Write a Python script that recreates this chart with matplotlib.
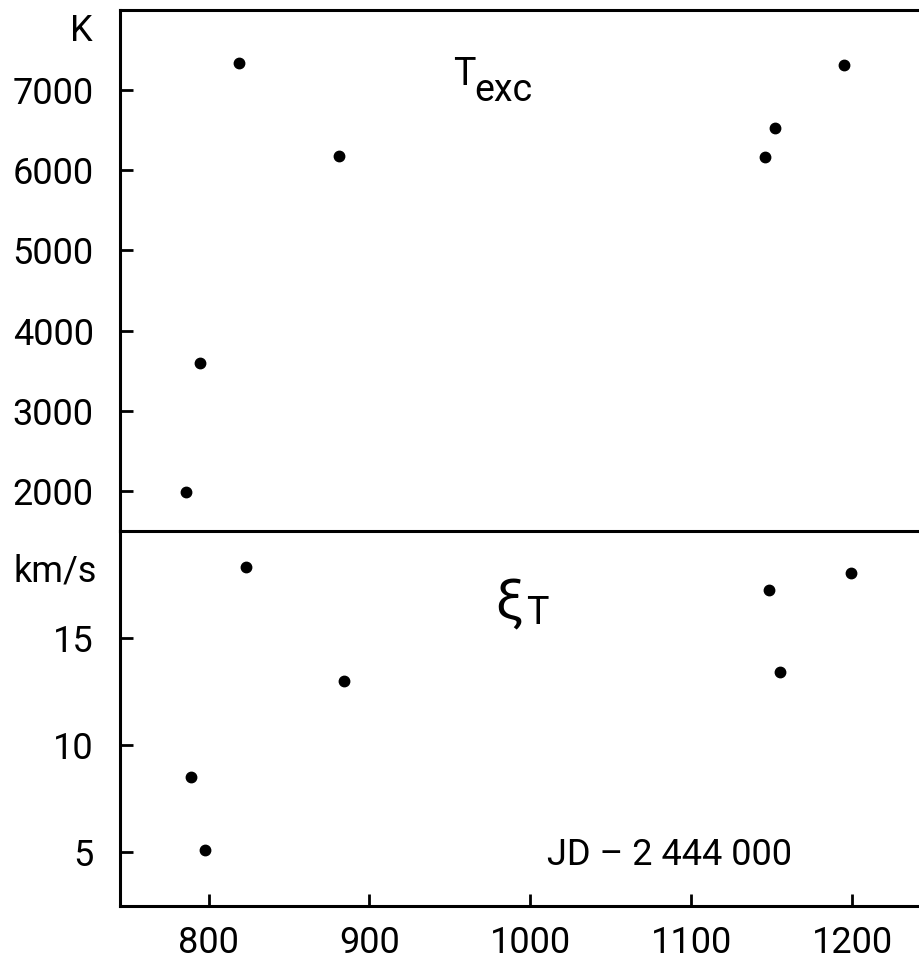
import matplotlib
matplotlib.use('Agg')
import matplotlib.pyplot as plt

# JD - 2 444 000
jdTexc = [819, 881, 795, 786, 1146, 1152, 1195]
texc = [7335, 6180, 3590, 1990, 6170, 6530, 7320]

jdXi = [823, 884, 789, 798, 1148, 1155, 1199]
xiT = [18.3, 13.0, 8.5, 5.1, 17.25, 13.4, 18.05]

xTicks = [800, 900, 1000, 1100, 1200]
texcTicks = [2000, 3000, 4000, 5000, 6000, 7000]
xiTicks = [5, 10, 15]

plt.rcParams['font.family'] = ['Roboto', 'DejaVu Sans']
fs = 26

fig = plt.figure(figsize=(9.2, 9.6), dpi=100)
left = 120 / 920
axTop = fig.add_axes([left, 1 - 531 / 960, 1 - left, 521 / 960])
axBot = fig.add_axes([left, 1 - 906 / 960, 1 - left, 375 / 960])

lw = 2.2
for ax in (axTop, axBot):
    ax.set_xlim(745, 1242)
    ax.spines['right'].set_visible(False)
    for s in ax.spines.values():
        s.set_linewidth(lw)
    ax.tick_params(direction='in', length=9, width=2, labelsize=fs)
    ax.tick_params(axis='y', pad=19)

axTop.plot(jdTexc, texc, 'o', color='black', markersize=7.5)
axTop.set_ylim(1500, 8000)
axTop.set_yticks(texcTicks)
axTop.set_xticks([])
axTop.spines['bottom'].set_visible(False)
axTop.annotate('K', xy=(0, 7744), xycoords=axTop.get_yaxis_transform(),
               xytext=(-20, 0), textcoords='offset points',
               ha='right', va='center', fontsize=fs)
axTop.text(952, 7198, 'T', ha='left', va='center', fontsize=27)
axTop.text(965, 6990, 'exc', ha='left', va='center', fontsize=27)

axBot.plot(jdXi, xiT, 'o', color='black', markersize=7.5)
axBot.set_ylim(2.5, 20)
axBot.set_yticks(xiTicks)
axBot.set_xticks(xTicks)
axBot.tick_params(axis='x', pad=14)
axBot.annotate('km/s', xy=(0, 18.1), xycoords=axBot.get_yaxis_transform(),
               xytext=(-17, 0), textcoords='offset points',
               ha='right', va='center', fontsize=fs)
axBot.text(978, 16.6, '\u03be', ha='left', va='center', fontsize=40)
axBot.text(997, 16.15, 'T', ha='left', va='center', fontsize=27)
axBot.text(1010, 4.86, 'JD \u2013 2 444 000', ha='left', va='center', fontsize=fs)

fig.savefig('out.png', dpi=100)
